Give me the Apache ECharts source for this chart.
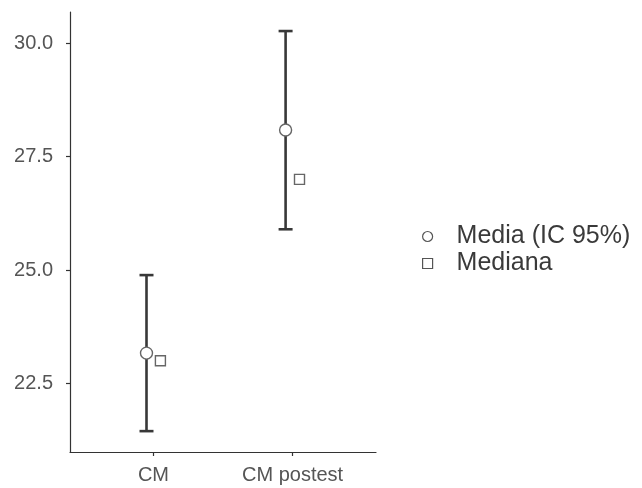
<!DOCTYPE html>
<html><head><meta charset="utf-8">
<script src="https://cdn.jsdelivr.net/npm/echarts@6/dist/echarts.min.js"></script>
<style>html,body{margin:0;padding:0;background:#fff}#c{width:642px;height:488px}</style>
</head><body><div id="c"></div>
<script>
const categories = ['CM', 'CM postest'];
const meanValues = [23.17, 28.09];
const ciLow = [21.45, 25.9];
const ciHigh = [24.89, 30.27];
const medianValues = [23.0, 27.0];
const yTicks = [22.5, 25.0, 27.5, 30.0];
const dodge = 0.05;

const catPos = categories.map((c, i) => i + 1);
const meanData = catPos.map((x, i) => [x - dodge, meanValues[i]]);
const medianData = catPos.map((x, i) => [x + dodge, medianValues[i]]);
const errData = catPos.map((x, i) => [x - dodge, ciLow[i], ciHigh[i]]);

const textColor = '#555';
const font = 'Liberation Sans, Arial, sans-serif';

const chart = echarts.init(document.getElementById('c'), null, {renderer: 'canvas'});
chart.setOption({
  animation: false,
  backgroundColor: '#fff',
  grid: {left: 70, right: 266, top: 12, bottom: 36, containLabel: false},
  xAxis: {
    type: 'value', min: 0.4, max: 2.6,
    splitLine: {show: false},
    axisLine: {lineStyle: {color: '#333', width: 1.2}},
    axisTick: {customValues: catPos, length: 4, lineStyle: {color: '#333', width: 1.2}},
    axisLabel: {customValues: catPos, formatter: v => categories[Math.round(v) - 1] || '',
      color: textColor, fontSize: 20, fontFamily: font, margin: 13}
  },
  yAxis: {
    type: 'value', min: 20.99, max: 30.69,
    splitLine: {show: false},
    axisLine: {show: true, lineStyle: {color: '#333', width: 1.2}},
    axisTick: {show: true, customValues: yTicks, length: 4, lineStyle: {color: '#333', width: 1.2}},
    axisLabel: {customValues: yTicks, formatter: v => v.toFixed(1),
      color: textColor, fontSize: 20, fontFamily: font, margin: 17}
  },
  legend: {
    orient: 'vertical', left: 417, top: 218, itemGap: 0,
    itemWidth: 10, itemHeight: 10,
    textStyle: {color: '#3a3a3a', fontSize: 25, lineHeight: 27, fontFamily: font, padding: [0, 0, 0, 19]},
    data: [
      {name: 'Media (IC 95%)', icon: 'circle', itemStyle: {color: '#fff', borderColor: '#555', borderWidth: 1.2, opacity: 1}},
      {name: 'Mediana', icon: 'rect', itemStyle: {color: '#fff', borderColor: '#555', borderWidth: 1.2, opacity: 1}}
    ]
  },
  series: [
    {
      type: 'custom', name: 'err', silent: true, z: 1,
      data: errData,
      renderItem: function (params, api) {
        const x = api.value(0);
        const lo = api.coord([x, api.value(1)]);
        const hi = api.coord([x, api.value(2)]);
        const hw = 7;
        const style = {stroke: '#383838', lineWidth: 2.6};
        return {type: 'group', children: [
          {type: 'line', shape: {x1: lo[0], y1: lo[1], x2: hi[0], y2: hi[1]}, style},
          {type: 'line', shape: {x1: lo[0] - hw, y1: lo[1], x2: lo[0] + hw, y2: lo[1]}, style},
          {type: 'line', shape: {x1: hi[0] - hw, y1: hi[1], x2: hi[0] + hw, y2: hi[1]}, style}
        ]};
      }
    },
    {
      type: 'scatter', name: 'Media (IC 95%)', data: meanData, symbol: 'circle', symbolSize: 12, z: 5,
      itemStyle: {color: '#fff', borderColor: '#666', borderWidth: 1.4, opacity: 1}
    },
    {
      type: 'scatter', name: 'Mediana', data: medianData, symbol: 'rect', symbolSize: 10, z: 5,
      itemStyle: {color: '#fff', borderColor: '#666', borderWidth: 1.4, opacity: 1}
    }
  ]
});
</script>
</body></html>
